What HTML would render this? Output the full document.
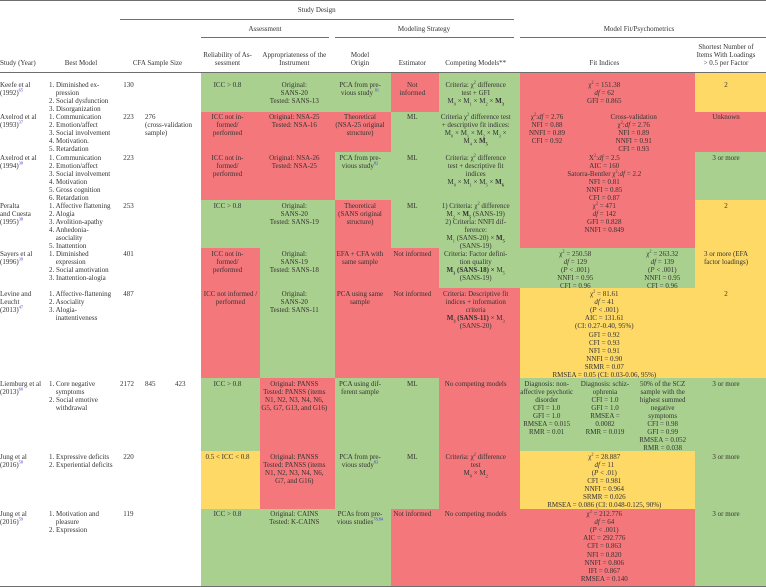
<!DOCTYPE html>
<html lang="en">
<head>
<meta charset="utf-8">
<title>CFA studies table</title>
<style>
html,body{margin:0;padding:0;background:#fff}
#page{position:relative;width:766px;height:587px;overflow:hidden;background:#fff;font-family:"Liberation Serif",serif;font-size:7px;line-height:8.05px;color:#333;filter:blur(.3px)}
.r{position:absolute;background:#6e6e6e}
.c{position:absolute}
.g{background:#aad08f}.x{background:#f4777b}.y{background:#fed966}
.t{position:absolute;white-space:nowrap;text-align:center;transform:translateX(-50%)}
.l{position:absolute;white-space:nowrap;text-align:left}
.h{padding-left:6.7px}
sub,sup{font-size:4.4px;line-height:0}
sup a{color:#3b3bd8;text-decoration:none}
i{font-style:italic}
</style>
</head>
<body>
<div id="page">

<div class="r" style="left:0;top:0;width:766px;height:1.3px"></div>
<div class="r" style="left:120px;top:18.6px;width:394px;height:1.3px"></div>
<div class="r" style="left:201px;top:37.2px;width:128px;height:1.3px"></div>
<div class="r" style="left:335px;top:37.2px;width:179px;height:1.3px"></div>
<div class="r" style="left:520px;top:37.2px;width:246px;height:1.3px"></div>
<div class="r" style="left:0;top:71.8px;width:766px;height:1.3px"></div>

<div class="t" style="left:316.7px;top:5.7px">Study Design</div>
<div class="t" style="left:265px;top:24.5px">Assessment</div>
<div class="t" style="left:424px;top:24.5px">Modeling Strategy</div>
<div class="t" style="left:639px;top:24.5px">Model Fit/Psychometrics</div>
<div class="l" style="left:0;top:59.3px">Study (Year)</div>
<div class="t" style="left:81px;top:59.3px">Best Model</div>
<div class="t" style="left:157.5px;top:59.3px">CFA Sample Size</div>
<div class="t" style="left:227.5px;top:51px">Reliability of As-<br>sessment</div>
<div class="t" style="left:294.3px;top:51px">Appropriateness of the<br>Instrument</div>
<div class="t" style="left:360px;top:51px">Model<br>Origin</div>
<div class="t" style="left:412.3px;top:59.3px">Estimator</div>
<div class="t" style="left:475.7px;top:59.3px">Competing Models**</div>
<div class="t" style="left:604.3px;top:59.3px">Fit Indices</div>
<div class="t" style="left:726px;top:43px">Shortest Number of<br>Items With Loadings<br>&gt; 0.5 per Factor</div>

<!-- row backgrounds -->
<div class="c g" style="left:201px;top:73px;width:190px;height:38.7px"></div>
<div class="c x" style="left:391px;top:73px;width:48px;height:38.7px"></div>
<div class="c g" style="left:439px;top:73px;width:81px;height:38.7px"></div>
<div class="c x" style="left:520px;top:73px;width:174.5px;height:38.7px"></div>
<div class="c y" style="left:694.5px;top:73px;width:71.5px;height:38.7px"></div>

<div class="c x" style="left:201px;top:111.7px;width:190px;height:40.3px"></div>
<div class="c g" style="left:391px;top:111.7px;width:129px;height:40.3px"></div>
<div class="c x" style="left:520px;top:111.7px;width:246px;height:40.3px"></div>

<div class="c x" style="left:201px;top:152px;width:134px;height:48px"></div>
<div class="c g" style="left:335px;top:152px;width:185px;height:48px"></div>
<div class="c x" style="left:520px;top:152px;width:174.5px;height:48px"></div>
<div class="c g" style="left:694.5px;top:152px;width:71.5px;height:48px"></div>

<div class="c g" style="left:201px;top:200px;width:134px;height:48px"></div>
<div class="c x" style="left:335px;top:200px;width:56px;height:48px"></div>
<div class="c g" style="left:391px;top:200px;width:129px;height:48px"></div>
<div class="c x" style="left:520px;top:200px;width:174.5px;height:48px"></div>
<div class="c y" style="left:694.5px;top:200px;width:71.5px;height:48px"></div>

<div class="c x" style="left:201px;top:248px;width:58.7px;height:40px"></div>
<div class="c g" style="left:259.7px;top:248px;width:75.3px;height:40px"></div>
<div class="c x" style="left:335px;top:248px;width:104px;height:40px"></div>
<div class="c g" style="left:439px;top:248px;width:255.5px;height:40px"></div>
<div class="c y" style="left:694.5px;top:248px;width:71.5px;height:40px"></div>

<div class="c x" style="left:201px;top:288px;width:58.7px;height:90px"></div>
<div class="c g" style="left:259.7px;top:288px;width:75.3px;height:90px"></div>
<div class="c x" style="left:335px;top:288px;width:185px;height:90px"></div>
<div class="c y" style="left:520px;top:288px;width:246px;height:90px"></div>

<div class="c g" style="left:201px;top:378px;width:58.7px;height:73px"></div>
<div class="c x" style="left:259.7px;top:378px;width:75.3px;height:73px"></div>
<div class="c g" style="left:335px;top:378px;width:104px;height:73px"></div>
<div class="c x" style="left:439px;top:378px;width:81px;height:73px"></div>
<div class="c g" style="left:520px;top:378px;width:246px;height:73px"></div>

<div class="c y" style="left:201px;top:451px;width:58.7px;height:58px"></div>
<div class="c x" style="left:259.7px;top:451px;width:75.3px;height:58px"></div>
<div class="c g" style="left:335px;top:451px;width:104px;height:58px"></div>
<div class="c x" style="left:439px;top:451px;width:81px;height:58px"></div>
<div class="c y" style="left:520px;top:451px;width:174.5px;height:58px"></div>
<div class="c g" style="left:694.5px;top:451px;width:71.5px;height:58px"></div>

<div class="c g" style="left:201px;top:509px;width:190px;height:77px"></div>
<div class="c x" style="left:391px;top:509px;width:303.5px;height:77px"></div>
<div class="c g" style="left:694.5px;top:509px;width:71.5px;height:77px"></div>

<div class="r" style="left:0;top:585.7px;width:766px;height:1.3px"></div>

<!-- row 1 -->
<div class="l" style="left:0;top:81.3px">Keefe et al<br>(1992)<sup><a>65</a></sup></div>
<div class="l" style="left:49px;top:81.3px">1. Diminished ex-<br><span class="h">pression</span><br>2. Social dysfunction<br>3. Disorganization</div>
<div class="l" style="left:123.3px;top:81.3px">130</div>
<div class="t" style="left:227.5px;top:81.3px">ICC &gt; 0.8</div>
<div class="t" style="left:294.3px;top:81.3px">Original:<br>SANS-20<br>Tested: SANS-13</div>
<div class="t" style="left:360px;top:81.3px">PCA from pre-<br>vious study <sup><a>81</a></sup></div>
<div class="t" style="left:412.3px;top:81.3px">Not<br>informed</div>
<div class="t" style="left:475.7px;top:81.3px">Criteria: χ<sup>2</sup> difference<br>test + GFI<br>M<sub>0</sub> × M<sub>1</sub> × M<sub>2</sub> × <b>M<sub>3</sub></b></div>
<div class="t" style="left:604.3px;top:81.3px">χ<sup>2</sup> = 151.38<br><i>df</i> = 62<br>GFI = 0.865</div>
<div class="t" style="left:726px;top:81.3px">2</div>

<!-- row 2 -->
<div class="l" style="left:0;top:113.3px">Axelrod et al<br>(1993)<sup><a>37</a></sup></div>
<div class="l" style="left:49px;top:113.3px">1. Communication<br>2. Emotion/affect<br>3. Social involvement<br>4. Motivation.<br>5. Retardation</div>
<div class="l" style="left:123.3px;top:113.3px">223</div>
<div class="l" style="left:145px;top:113.3px">276<br>(cross-validation<br>sample)</div>
<div class="t" style="left:227.5px;top:113.3px">ICC not in-<br>formed/<br>performed</div>
<div class="t" style="left:294.3px;top:113.3px">Original: NSA-25<br>Tested: NSA-16</div>
<div class="t" style="left:360px;top:113.3px">Theoretical<br>(NSA-25 original<br>structure)</div>
<div class="t" style="left:412.3px;top:113.3px">ML</div>
<div class="t" style="left:475.7px;top:113.3px">Criteria χ<sup>2</sup> difference test<br>+ descriptive fit indices:<br>M<sub>0</sub> × M<sub>1</sub> × M<sub>2</sub> × M<sub>3</sub> ×<br>M<sub>4</sub> x <b>M<sub>5</sub></b></div>
<div class="t" style="left:547px;top:113.3px">χ<sup>2</sup>:<i>df</i> = 2.76<br>NFI = 0.88<br>NNFI = 0.89<br>CFI = 0.92</div>
<div class="t" style="left:633.7px;top:113.3px">Cross-validation<br>χ<sup>2</sup>:<i>df</i> = 2.76<br>NFI = 0.89<br>NNFI = 0.91<br>CFI = 0.93</div>
<div class="t" style="left:726px;top:113.3px">Unknown</div>

<!-- row 3 -->
<div class="l" style="left:0;top:153.7px">Axelrod et al<br>(1994)<sup><a>38</a></sup></div>
<div class="l" style="left:49px;top:153.7px">1. Communication<br>2. Emotion/affect<br>3. Social involvement<br>4. Motivation<br>5. Gross cognition<br>6. Retardation</div>
<div class="l" style="left:123.3px;top:153.7px">223</div>
<div class="t" style="left:227.5px;top:153.7px">ICC not in-<br>formed/<br>performed</div>
<div class="t" style="left:294.3px;top:153.7px">Original: NSA-26<br>Tested: NSA-25</div>
<div class="t" style="left:360px;top:153.7px">PCA from pre-<br>vious study<sup><a>82</a></sup></div>
<div class="t" style="left:412.3px;top:153.7px">ML</div>
<div class="t" style="left:475.7px;top:153.7px">Criteria: χ<sup>2</sup> difference<br>test + descriptive fit<br>indices<br>M<sub>0</sub> × M<sub>1</sub> × M<sub>5</sub> × <b>M<sub>6</sub></b></div>
<div class="t" style="left:604.3px;top:153.7px">Χ<sup>2</sup>:<i>df</i> = 2.5<br>AIC = 160<br>Satorra-Bentler χ<sup>2</sup>:<i>df</i> = 2.2<br>NFI = 0.81<br>NNFI = 0.85<br>CFI = 0.87</div>
<div class="t" style="left:726px;top:153.7px">3 or more</div>

<!-- row 4 -->
<div class="l" style="left:0;top:201.7px">Peralta<br>and Cuesta<br>(1995)<sup><a>38</a></sup></div>
<div class="l" style="left:49px;top:201.7px">1. Affective flattening<br>2. Alogia<br>3. Avolition-apathy<br>4. Anhedonia-<br><span class="h">asociality</span><br>5. Inattention</div>
<div class="l" style="left:123.3px;top:201.7px">253</div>
<div class="t" style="left:227.5px;top:201.7px">ICC &gt; 0.8</div>
<div class="t" style="left:294.3px;top:201.7px">Original:<br>SANS-20<br>Tested: SANS-19</div>
<div class="t" style="left:360px;top:201.7px">Theoretical<br>(SANS original<br>structure)</div>
<div class="t" style="left:412.3px;top:201.7px">ML</div>
<div class="t" style="left:475.7px;top:201.7px">1) Criteria: χ<sup>2</sup> difference<br>M<sub>2</sub> × <b>M<sub>5</sub></b> (SANS-19)<br>2) Criteria: NNFI dif-<br>ference:<br>M<sub>1</sub> (SANS-20) × <b>M<sub>5</sub></b><br>(SANS-19)</div>
<div class="t" style="left:604.3px;top:201.7px">χ<sup>2</sup> = 471<br><i>df</i> = 142<br>GFI = 0.828<br>NNFI = 0.849</div>
<div class="t" style="left:726px;top:201.7px">2</div>

<!-- row 5 -->
<div class="l" style="left:0;top:250px">Sayers et al<br>(1996)<sup><a>39</a></sup></div>
<div class="l" style="left:49px;top:250px">1. Diminished<br><span class="h">expression</span><br>2. Social amotivation<br>3. Inattention-alogia</div>
<div class="l" style="left:123.3px;top:250px">401</div>
<div class="t" style="left:227.5px;top:250px">ICC not in-<br>formed/<br>performed</div>
<div class="t" style="left:294.3px;top:250px">Original:<br>SANS-19<br>Tested: SANS-18</div>
<div class="t" style="left:360px;top:250px">EFA + CFA with<br>same sample</div>
<div class="t" style="left:412.3px;top:250px">Not informed</div>
<div class="t" style="left:475.7px;top:250px">Criteria: Factor defini-<br>tion quality<br><b>M<sub>3</sub> (SANS-18) ×</b> M<sub>5</sub><br>(SANS-19)</div>
<div class="t" style="left:575.3px;top:250px">χ<sup>2</sup> = 250.58<br><i>df</i> = 129<br>(<i>P</i> &lt; .001)<br>NNFI = 0.95<br>CFI = 0.96</div>
<div class="t" style="left:662.3px;top:250px">χ<sup>2</sup> = 263.32<br><i>df</i> = 139<br>(<i>P</i> &lt; .001)<br>NNFI = 0.95<br>CFI = 0.96</div>
<div class="t" style="left:726px;top:250px">3 or more (EFA<br>factor loadings)</div>

<!-- row 6 -->
<div class="l" style="left:0;top:290.3px">Levine and<br>Leucht<br>(2013)<sup><a>47</a></sup></div>
<div class="l" style="left:49px;top:290.3px">1. Affective-flattening<br>2. Asociality<br>3. Alogia-<br><span class="h">inattentiveness</span></div>
<div class="l" style="left:123.3px;top:290.3px">487</div>
<div class="t" style="left:230.5px;top:290.3px">ICC not informed /<br>performed</div>
<div class="t" style="left:294.3px;top:290.3px">Original:<br>SANS-20<br>Tested: SANS-11</div>
<div class="t" style="left:360px;top:290.3px">PCA using same<br>sample</div>
<div class="t" style="left:412.3px;top:290.3px">Not informed</div>
<div class="t" style="left:475.7px;top:290.3px">Criteria: Descriptive fit<br>indices + information<br>criteria<br><b>M<sub>3</sub> (SANS-11)</b> × M<sub>3</sub><br>(SANS-20)</div>
<div class="t" style="left:604.3px;top:290.3px">χ<sup>2</sup> = 81.61<br><i>df</i> = 41<br>(<i>P</i> &lt; .001)<br>AIC = 131.61<br>(CI: 0.27-0.40, 95%)<br>GFI = 0.92<br>CFI = 0.93<br>NFI = 0.91<br>NNFI = 0.90<br>SRMR = 0.07<br>RMSEA = 0.05 (CI: 0.03-0.06, 95%)</div>
<div class="t" style="left:726px;top:290.3px">2</div>

<!-- row 7 -->
<div class="l" style="left:0;top:379.7px">Liemburg et al<br>(2013)<sup><a>60</a></sup></div>
<div class="l" style="left:49px;top:379.7px">1. Core negative<br><span class="h">symptoms</span><br>2. Social emotive<br><span class="h">withdrawal</span></div>
<div class="l" style="left:120px;top:379.7px">2172</div>
<div class="l" style="left:145px;top:379.7px">845</div>
<div class="l" style="left:175px;top:379.7px">423</div>
<div class="t" style="left:227.5px;top:379.7px">ICC &gt; 0.8</div>
<div class="t" style="left:294.3px;top:379.7px">Original: PANSS<br>Tested: PANSS (items<br>N1, N2, N3, N4, N6,<br>G5, G7, G13, and G16)</div>
<div class="t" style="left:360px;top:379.7px">PCA using dif-<br>ferent sample</div>
<div class="t" style="left:412.3px;top:379.7px">ML</div>
<div class="t" style="left:475.7px;top:379.7px">No competing models</div>
<div class="t" style="left:546.7px;top:379.7px">Diagnosis: non-<br>affective psychotic<br>disorder<br>CFI = 1.0<br>GFI = 1.0<br>RMSEA = 0.015<br>RMR = 0.01</div>
<div class="t" style="left:605px;top:379.7px">Diagnosis: schiz-<br>ophrenia<br>CFI = 1.0<br>GFI = 1.0<br>RMSEA =<br>0.0082<br>RMR = 0.019</div>
<div class="t" style="left:662.7px;top:379.7px">50% of the SCZ<br>sample with the<br>highest summed<br>negative<br>symptoms<br>CFI = 0.98<br>GFI = 0.99<br>RMSEA = 0.052<br>RMR = 0.038</div>
<div class="t" style="left:726px;top:379.7px">3 or more</div>

<!-- row 8 -->
<div class="l" style="left:0;top:453px">Jung et al<br>(2016)<sup><a>58</a></sup></div>
<div class="l" style="left:49px;top:453px">1. Expressive deficits<br>2. Experiential deficits</div>
<div class="l" style="left:123.3px;top:453px">220</div>
<div class="t" style="left:227.5px;top:453px">0.5 &lt; ICC &lt; 0.8</div>
<div class="t" style="left:294.3px;top:453px">Original: PANSS<br>Tested: PANSS (items<br>N1, N2, N3, N4, N6,<br>G7, and G16)</div>
<div class="t" style="left:360px;top:453px">PCA from pre-<br>vious study<sup><a>83</a></sup></div>
<div class="t" style="left:412.3px;top:453px">ML</div>
<div class="t" style="left:475.7px;top:453px">Criteria: χ<sup>2</sup> difference<br>test<br>M<sub>0</sub> × M<sub>2</sub></div>
<div class="t" style="left:604.3px;top:453px">χ<sup>2</sup> = 28.887<br><i>df</i> = 11<br>(<i>P</i> &lt; .01)<br>CFI = 0.981<br>NNFI = 0.964<br>SRMR = 0.026<br>RMSEA = 0.086 (CI: 0.048-0.125, 90%)</div>
<div class="t" style="left:726px;top:453px">3 or more</div>

<!-- row 9 -->
<div class="l" style="left:0;top:510.3px">Jung et al<br>(2016)<sup><a>59</a></sup></div>
<div class="l" style="left:49px;top:510.3px">1. Motivation and<br><span class="h">pleasure</span><br>2. Expression</div>
<div class="l" style="left:123.3px;top:510.3px">119</div>
<div class="t" style="left:227.5px;top:510.3px">ICC &gt; 0.8</div>
<div class="t" style="left:294.3px;top:510.3px">Original: CAINS<br>Tested: K-CAINS</div>
<div class="t" style="left:360px;top:510.3px">PCAs from pre-<br>vious studies<sup><a>78,84</a></sup></div>
<div class="t" style="left:412.3px;top:510.3px">Not informed</div>
<div class="t" style="left:475.7px;top:510.3px">No competing models</div>
<div class="t" style="left:604.3px;top:510.3px">χ<sup>2</sup> = 212.776<br><i>df</i> = 64<br>(<i>P</i> &lt; .001)<br>AIC = 292.776<br>CFI = 0.863<br>NFI = 0.820<br>NNFI = 0.806<br>IFI = 0.867<br>RMSEA = 0.140</div>
<div class="t" style="left:726px;top:510.3px">3 or more</div>

</div>
</body>
</html>
